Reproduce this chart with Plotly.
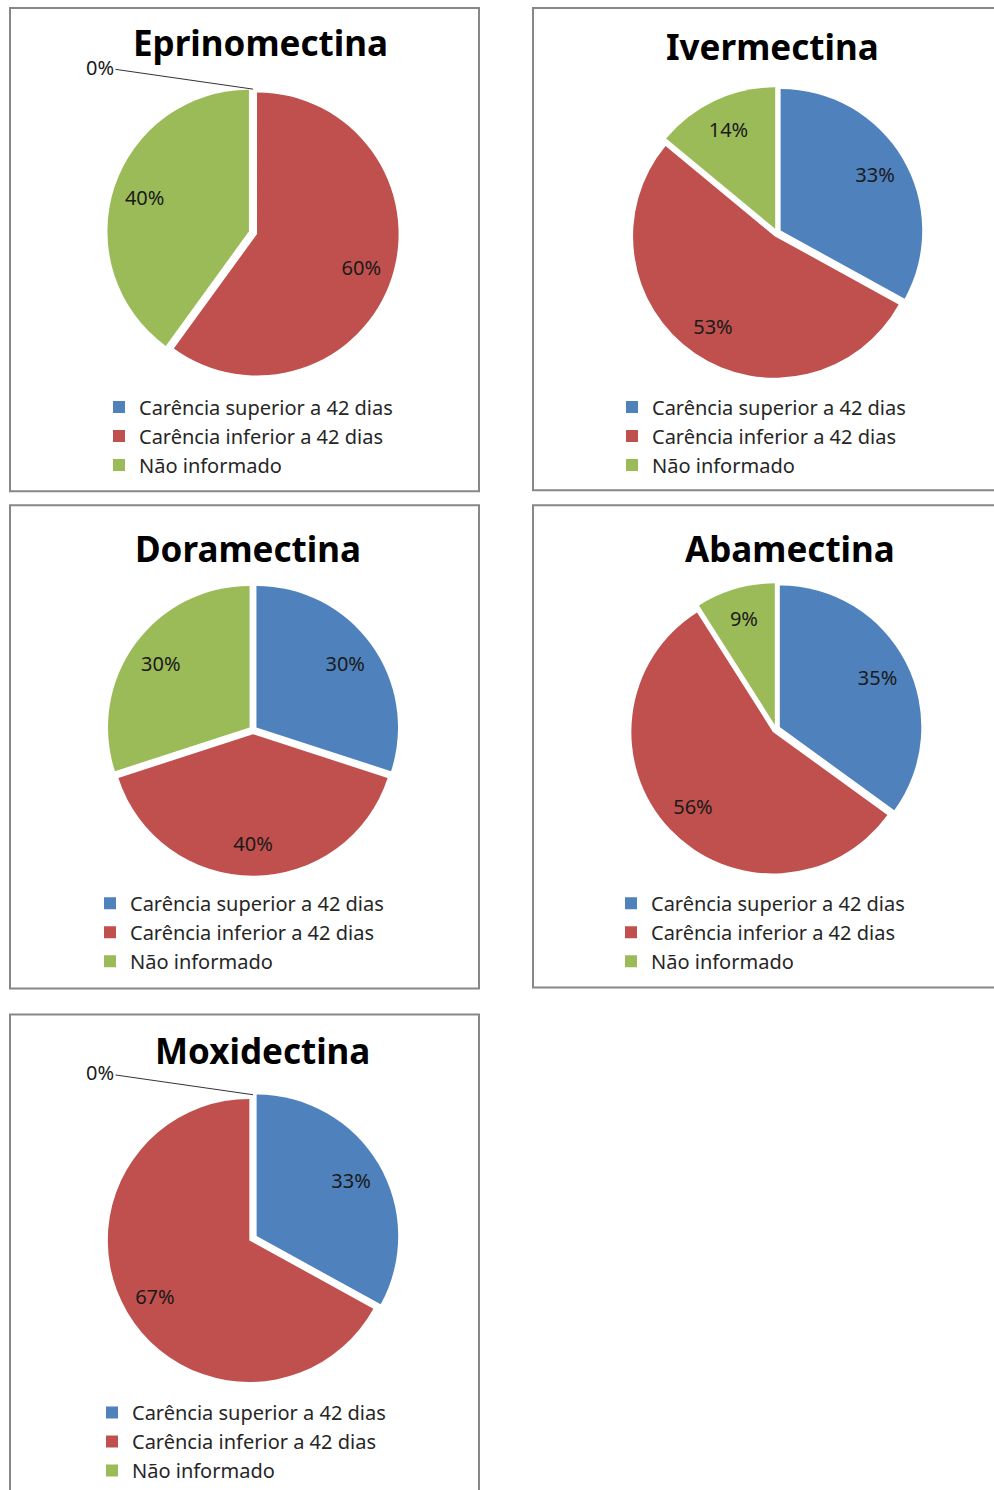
import plotly.graph_objects as go

W, H = 994, 1490

categories = ["Carência superior a 42 dias", "Carência inferior a 42 dias", "Não informado"]
colors = ["#4F81BD", "#C0504D", "#9BBB59"]

drugs = ["Eprinomectina", "Ivermectina", "Doramectina", "Abamectina", "Moxidectina"]
eprinomectina = [0, 60, 40]
ivermectina = [33, 53, 14]
doramectina = [30, 40, 30]
abamectina = [35, 56, 9]
moxidectina = [33, 67, 0]
values = [eprinomectina, ivermectina, doramectina, abamectina, moxidectina]

# layout geometry (pixels)
boxes = [(10, 8, 479, 492), (533, 8, 1000, 491), (10, 506, 479, 990),
         (533, 506, 1000, 989), (10, 1016, 479, 1500)]
centers = [(253, 233), (777, 233), (253, 731), (776, 730), (253, 1240)]
R = 146
PULL = 0.03
title_pos = [(260, 43), (772, 47), (248, 549), (790, 549), (262, 1052)]
legend_pos = [(99, 388), (612, 388), (90, 885), (611, 885), (92, 1395)]
FONT = "Noto Sans"
YS = 1.004  # small vertical correction


def px(x):
    return x / W


def py(y):
    return 1 - (y * YS) / H


fig = go.Figure()
shapes = []
annotations = []
for i, (name, vals) in enumerate(zip(drugs, values)):
    cx, cy = centers[i]
    lg = "legend" if i == 0 else f"legend{i+1}"
    labels = [c + "\u200b" * i for c in categories]
    dom = dict(x=[px(cx - R), px(cx + R)], y=[max(0, py(cy + R)), py(cy - R)])
    # coloured pie (legend source)
    fig.add_trace(go.Pie(
        labels=labels, values=vals, textinfo="none",
        marker=dict(colors=colors, line=dict(width=0)),
        sort=False, direction="clockwise", rotation=0,
        pull=[PULL] * 3, domain=dom, legend=lg, showlegend=True, name=name,
        hoverinfo="label+percent",
    ))
    # transparent ring carrying the percentage labels further out
    texts = [f"{v}%" if v > 0 else "" for v in vals]
    fig.add_trace(go.Pie(
        labels=labels, values=vals, text=texts, textinfo="text",
        textposition="inside", insidetextorientation="horizontal",
        textfont=dict(family=FONT, size=20, color="#1a1a1a"),
        marker=dict(colors=["rgba(0,0,0,0)"] * 3, line=dict(width=0)),
        sort=False, direction="clockwise", rotation=0, hole=0.55,
        pull=[PULL] * 3, domain=dom, showlegend=False, hoverinfo="skip",
    ))
    x0, y0, x1, y1 = boxes[i]
    shapes.append(dict(type="rect", xref="paper", yref="paper",
                       x0=px(x0), x1=px(x1), y0=py(y1), y1=py(y0),
                       line=dict(color="#878787", width=2), fillcolor="rgba(0,0,0,0)"))
    tx, ty = title_pos[i]
    annotations.append(dict(text=f"<b>{name}</b>", x=px(tx), y=py(ty), xref="paper", yref="paper",
                            showarrow=False, xanchor="center", yanchor="middle",
                            font=dict(family=FONT, size=35, color="#000000")))
    for k, v in enumerate(vals):
        if v == 0:
            rr = R / (1 + PULL)
            annotations.append(dict(text="0%", x=px(cx), y=py(cy - rr - 2), xref="paper", yref="paper",
                                    showarrow=True, arrowhead=0, arrowwidth=1, arrowcolor="#333333",
                                    ax=-153, ay=-22, xanchor="center", yanchor="middle",
                                    font=dict(family=FONT, size=20, color="#1a1a1a")))
    lx, ly = legend_pos[i]
    fig.update_layout(**{lg: dict(x=px(lx), y=py(ly), xanchor="left", yanchor="top",
                                  font=dict(family=FONT, size=20, color="#262626"),
                                  bgcolor="rgba(0,0,0,0)", itemwidth=30, tracegroupgap=0)})

fig.update_layout(width=W, height=H, margin=dict(l=0, r=0, t=0, b=0),
                  paper_bgcolor="white", plot_bgcolor="white",
                  shapes=shapes, annotations=annotations)
fig.write_html("out.html")
